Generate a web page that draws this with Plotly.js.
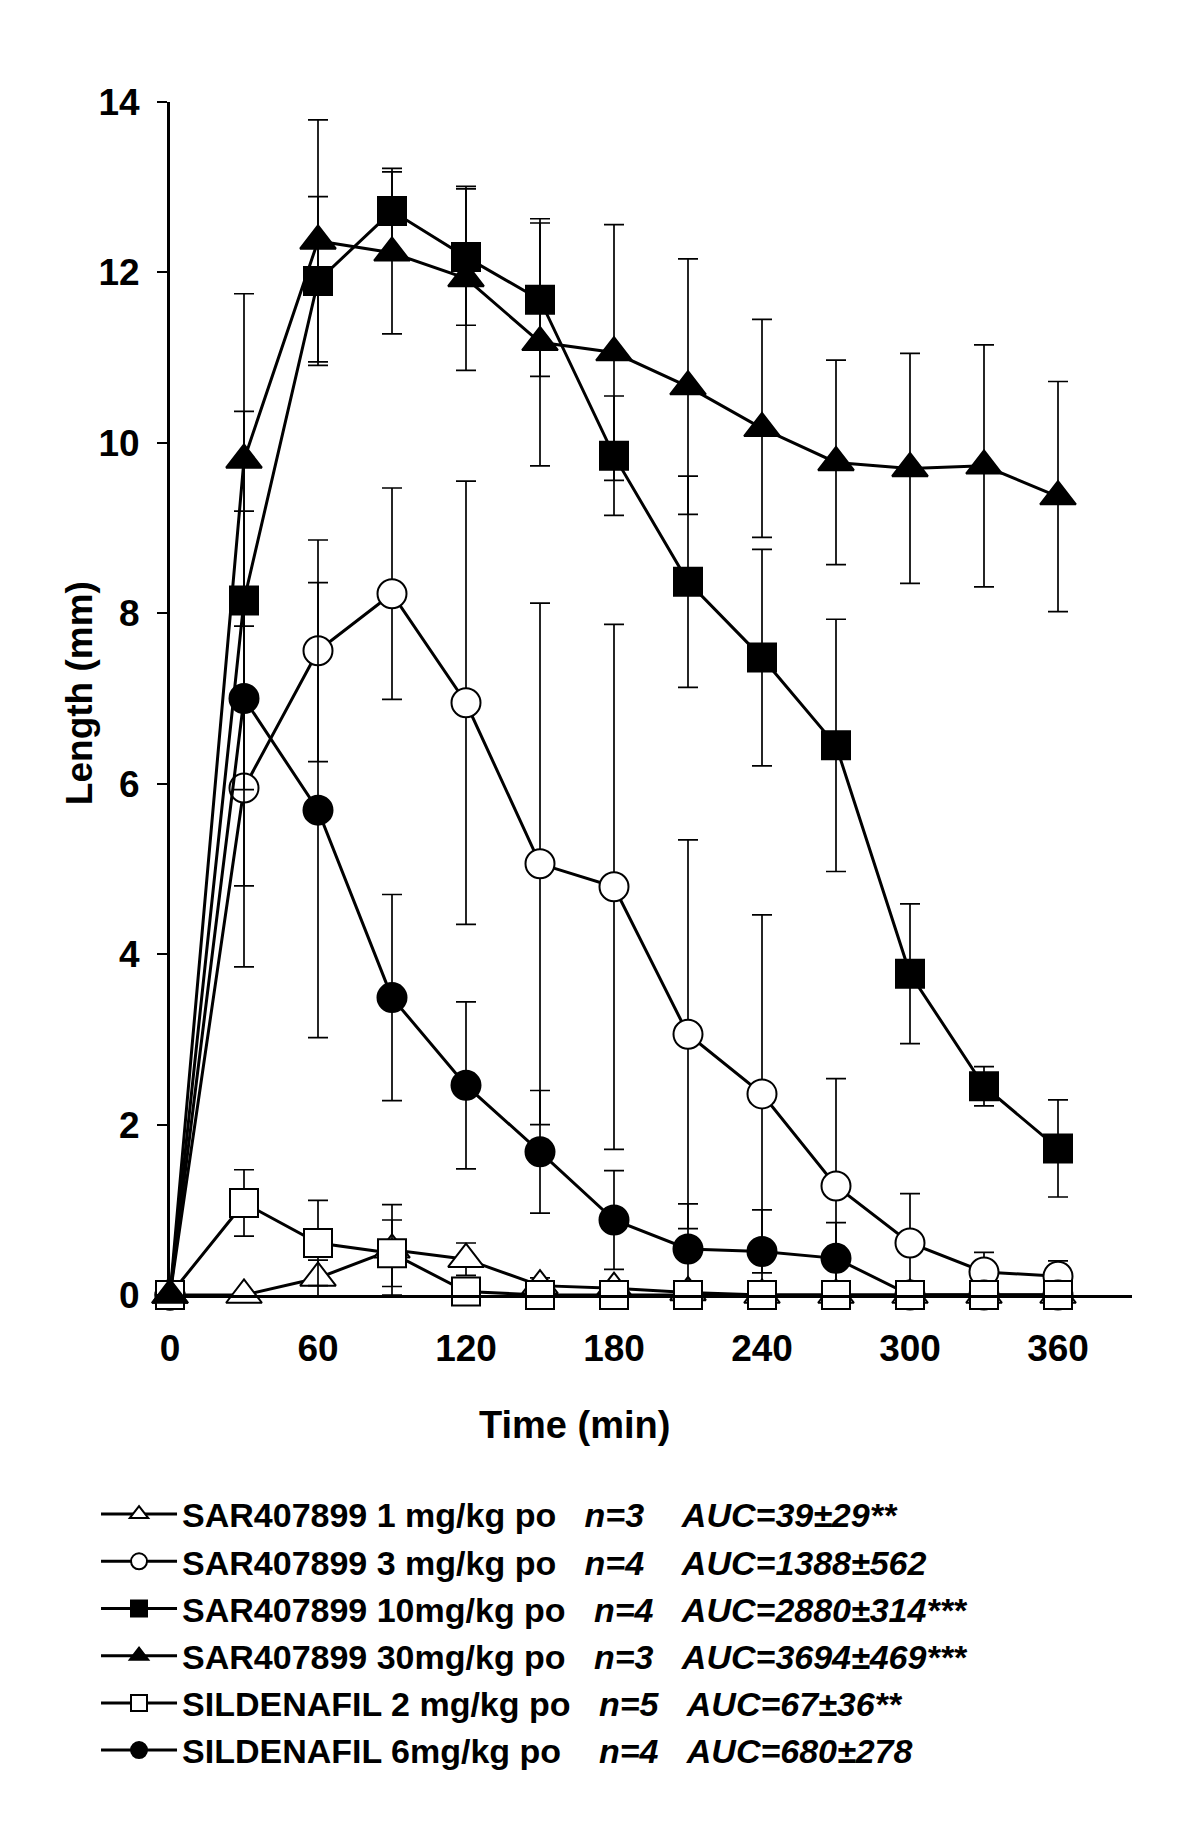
<!DOCTYPE html>
<html>
<head>
<meta charset="utf-8">
<script src="https://cdn.plot.ly/plotly-3.0.1.min.js"></script>
<style>
  html, body { margin: 0; padding: 0; background: #ffffff; }
  #chart { width: 1200px; height: 1827px; }
</style>
</head>
<body>
<div id="chart"></div>
<script>
// ---- data ----
const timeMin = [0, 30, 60, 90, 120, 150, 180, 210, 240, 270, 300, 330, 360];
const xTickVals = [0, 60, 120, 180, 240, 300, 360];
const yTickVals = [0, 2, 4, 6, 8, 10, 12, 14];

const sar1 = [0, 0, 0.2, 0.53, 0.42, 0.11, 0.08, 0.03, 0, 0, 0, 0, 0];
const sar1Err = [0, 0, 0.21, 0.53, 0.19, 0.09, 0.08, 0, 0, 0, 0, 0, 0];

const sar3 = [0, 5.95, 7.56, 8.23, 6.95, 5.06, 4.79, 3.06, 2.36, 1.28, 0.61, 0.27, 0.22];
const sar3Err = [0, 2.1, 1.3, 1.24, 2.6, 3.06, 3.08, 2.28, 2.1, 1.26, 0.58, 0.23, 0.18];

const sar10 = [0, 8.15, 11.9, 12.72, 12.18, 11.68, 9.85, 8.37, 7.48, 6.45, 3.77, 2.45, 1.72];
const sar10Err = [0, 2.22, 0.99, 0.5, 0.8, 0.9, 0.7, 1.24, 1.27, 1.48, 0.82, 0.23, 0.57];

const sar30 = [0, 9.8, 12.37, 12.23, 11.93, 11.18, 11.06, 10.66, 10.17, 9.77, 9.7, 9.73, 9.37];
const sar30Err = [0, 1.95, 1.42, 0.95, 1.08, 1.45, 1.5, 1.5, 1.28, 1.2, 1.35, 1.42, 1.35];

const sil2 = [0, 1.08, 0.61, 0.49, 0.04, 0, 0, 0, 0, 0, 0, 0, 0];
const sil2Err = [0, 0.39, 0.5, 0.39, 0, 0, 0, 0, 0, 0, 0, 0, 0];

const sil6 = [0, 7.0, 5.69, 3.49, 2.46, 1.68, 0.88, 0.54, 0.51, 0.43, 0, 0, 0];
const sil6Err = [0, 2.2, 2.67, 1.21, 0.98, 0.72, 0.58, 0.53, 0.49, 0.42, 0, 0, 0];

const drugLabels = ["SAR407899 1 mg/kg po", "SAR407899 3 mg/kg po", "SAR407899 10mg/kg po",
                    "SAR407899 30mg/kg po", "SILDENAFIL 2 mg/kg po", "SILDENAFIL 6mg/kg po"];
const nLabels = ["n=3", "n=4", "n=4", "n=3", "n=5", "n=4"];
const aucLabels = ["AUC=39\u00b129**", "AUC=1388\u00b1562", "AUC=2880\u00b1314***",
                   "AUC=3694\u00b1469***", "AUC=67\u00b136**", "AUC=680\u00b1278"];

// ---- styling ----
const FONT = "Liberation Sans, Arial, Helvetica, sans-serif";
const gapA = [3, 3, 3, 3, 3, 4];
const gapB = [4, 4, 3, 3, 3, 3];
const sp = n => "\u00a0".repeat(n);
const legendName = i => drugLabels[i] + sp(gapA[i]) + "<i>" + nLabels[i] + "</i>" + sp(gapB[i]) + "<i>" + aucLabels[i] + "</i>";

function series(i, y, err, symbol, fill, size, rank) {
  return {
    type: "scatter", mode: "lines+markers",
    x: timeMin, y: y,
    name: legendName(i),
    legendrank: rank,
    cliponaxis: false,
    line: { color: "#000000", width: 3 },
    marker: { symbol: symbol, size: size, color: fill, line: { color: "#000000", width: 2 } },
    error_y: { type: "data", array: err, visible: true, color: "#000000", thickness: 1.7, width: 10 }
  };
}

// drawing order (later = on top)
const traces = [
  series(0, sar1, sar1Err, "triangle-up", "#ffffff", 31, 1),
  series(1, sar3, sar3Err, "circle", "#ffffff", 29, 2),
  series(2, sar10, sar10Err, "square", "#000000", 28, 3),
  series(5, sil6, sil6Err, "circle", "#000000", 29, 6),
  series(4, sil2, sil2Err, "square", "#ffffff", 28, 5),
  series(3, sar30, sar30Err, "triangle-up", "#000000", 31, 4)
];

const layout = {
  width: 1200, height: 1827,
  margin: { l: 170, r: 68, t: 102, b: 532 },
  paper_bgcolor: "#ffffff", plot_bgcolor: "#ffffff",
  font: { family: FONT, color: "#000000", size: 34, weight: "bold" },
  showlegend: true,
  legend: {
    x: -0.0769, xanchor: "left", y: -0.1597, yanchor: "top",
    itemwidth: 76, traceorder: "normal",
    font: { family: FONT, size: 34, color: "#000000", weight: "bold" },
    bgcolor: "rgba(0,0,0,0)", borderwidth: 0
  },
  xaxis: {
    range: [0, 390], tickvals: xTickVals, ticktext: xTickVals.map(String),
    showgrid: false, zeroline: false, showline: true, linecolor: "#000000", linewidth: 3,
    ticks: "", ticklabelstandoff: 19,
    tickfont: { family: FONT, size: 37, color: "#000000", weight: "bold" },
    fixedrange: true
  },
  yaxis: {
    range: [0, 14], tickvals: yTickVals, ticktext: yTickVals.map(String),
    showgrid: false, zeroline: false, showline: true, linecolor: "#000000", linewidth: 3,
    ticks: "outside", ticklen: 10, tickwidth: 2, tickcolor: "#000000", ticklabelstandoff: 10,
    tickfont: { family: FONT, size: 37, color: "#000000", weight: "bold" },
    fixedrange: true
  },
  annotations: [
    { text: "Time (min)", xref: "paper", yref: "paper", x: 0.42, y: -0.109,
      xanchor: "center", yanchor: "middle", showarrow: false,
      font: { family: FONT, size: 38, color: "#000000", weight: "bold" } },
    { text: "Length (mm)", xref: "paper", yref: "paper", x: -0.0946, y: 0.5045,
      xanchor: "center", yanchor: "middle", showarrow: false, textangle: -90,
      font: { family: FONT, size: 37, color: "#000000", weight: "bold" } }
  ]
};

Plotly.newPlot("chart", traces, layout, { displayModeBar: false, staticPlot: true });
</script>
</body>
</html>
